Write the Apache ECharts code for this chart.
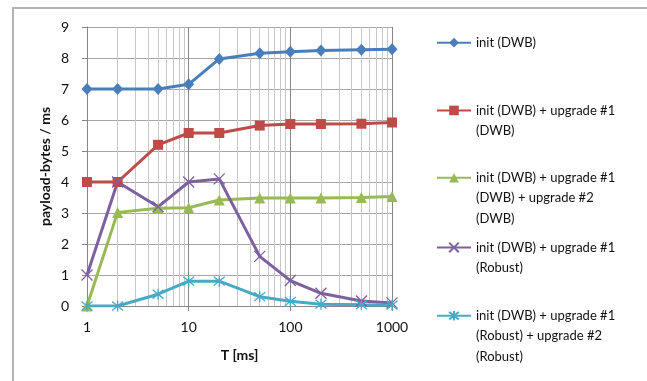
<!DOCTYPE html>
<html>
<head>
<meta charset="utf-8">
<script src="https://cdn.jsdelivr.net/npm/echarts@6/dist/echarts.min.js"></script>
<style>
  html, body { margin: 0; padding: 0; background: #fff; }
  #frame { position: absolute; left: 12px; top: 7px; width: 635px; height: 374px;
           border-left: 2px solid #b3b3b3; border-top: 2px solid #b3b3b3; box-sizing: border-box; }
  #chart { position: absolute; left: 0; top: 0; width: 647px; height: 381px; }
</style>
</head>
<body>
<div id="frame"></div>
<div id="chart"></div>
<script>
const periods = [1, 2, 5, 10, 20, 50, 100, 200, 500, 1000]
const minorTicks = [2, 3, 4, 5, 6, 7, 8, 9, 20, 30, 40, 50, 60, 70, 80, 90, 200, 300, 400, 500, 600, 700, 800, 900]

const seriesNames = [
  'init (DWB)',
  'init (DWB) + upgrade #1 (DWB)',
  'init (DWB) + upgrade #1 (DWB) + upgrade #2 (DWB)',
  'init (DWB) + upgrade #1 (Robust)',
  'init (DWB) + upgrade #1 (Robust) + upgrade #2 (Robust)'
]
const legendLines = [
  ['init (DWB)'],
  ['init (DWB) + upgrade #1', '(DWB)'],
  ['init (DWB) + upgrade #1', '(DWB) + upgrade #2', '(DWB)'],
  ['init (DWB) + upgrade #1', '(Robust)'],
  ['init (DWB) + upgrade #1', '(Robust) + upgrade #2', '(Robust)']
]

const initDwb = [7.0, 7.0, 7.0, 7.15, 7.97, 8.15, 8.2, 8.24, 8.27, 8.28]
const up1Dwb = [4.0, 4.0, 5.2, 5.58, 5.58, 5.82, 5.87, 5.87, 5.88, 5.92]
const up2Dwb = [0.0, 3.02, 3.15, 3.17, 3.42, 3.48, 3.48, 3.48, 3.5, 3.53]
const up1Robust = [1.0, 4.0, 3.2, 4.0, 4.1, 1.6, 0.82, 0.41, 0.16, 0.1]
const up2Robust = [0.0, 0.0, 0.38, 0.8, 0.8, 0.3, 0.15, 0.06, 0.04, 0.03]

const colors = ['#4a7ebb', '#be4b48', '#98b954', '#7d60a0', '#46aac5']
const font = 'Lato, "Liberation Sans", sans-serif'
const textColor = '#111'

const chart = echarts.init(document.getElementById('chart'))

const xMark = 'path://M0,0L10,10M0,10L10,0'
const starMark = 'path://M0,1L10,9M0,9L10,1M5,0L5,10'

function pts(values) {
  return periods.map((p, i) => [p, values[i]])
}

const legendTops = [32.5, 80, 127, 217, 265]
const legends = seriesNames.map((name, i) => {
  const lines = legendLines[i]
  const pad = new Array(lines.length - 1).fill('').join('\n')
  return {
    data: [name],
    orient: 'vertical',
    left: 436,
    top: legendTops[i],
    padding: 0,
    itemWidth: 34,
    itemHeight: 12,
    textStyle: { fontFamily: font, fontSize: 13, color: textColor, lineHeight: 20.3 },
    formatter: () => (lines.length > 1 ? pad + '\n' : '') + lines.join('\n')
  }
})

const common = { type: 'line', lineStyle: { width: 3 }, animation: false }

chart.setOption({
  animation: false,
  backgroundColor: 'transparent',
  color: colors,
  grid: { left: 87, right: 255, top: 27, bottom: 75 },
  legend: legends,
  xAxis: {
    type: 'log',
    logBase: 10,
    min: 1,
    max: 1000,
    name: 'T [ms]',
    nameLocation: 'middle',
    nameGap: 42,
    nameTextStyle: { fontFamily: font, fontSize: 14, fontWeight: 'bold', color: textColor },
    axisLine: { lineStyle: { color: '#878787', width: 1 } },
    axisTick: { show: true, length: 5, lineStyle: { color: '#878787' } },
    axisLabel: { fontFamily: font, fontSize: 14, color: textColor, margin: 14, formatter: v => String(v) },
    splitLine: { show: true, lineStyle: { color: '#878787', width: 1 } }
  },
  yAxis: {
    type: 'value',
    min: 0,
    max: 9,
    interval: 1,
    name: 'payload-bytes / ms',
    nameLocation: 'middle',
    nameGap: 35,
    nameTextStyle: { fontFamily: font, fontSize: 14, fontWeight: 'bold', color: textColor },
    axisLine: { show: true, lineStyle: { color: '#878787', width: 1 } },
    axisTick: { show: true, length: 5, lineStyle: { color: '#878787' } },
    axisLabel: { fontFamily: font, fontSize: 14, color: textColor, margin: 18 },
    splitLine: { show: true, lineStyle: { color: '#a6a6a6', width: 1 } }
  },
  series: [
    {
      ...common,
      name: seriesNames[0],
      data: pts(initDwb),
      symbol: 'diamond',
      symbolSize: [11, 12],
      markLine: {
        silent: true,
        z: 1,
        symbol: 'none',
        label: { show: false },
        lineStyle: { color: '#c8c8c8', type: 'solid', width: 1 },
        data: minorTicks.map(v => ({ xAxis: v }))
      }
    },
    { ...common, name: seriesNames[1], data: pts(up1Dwb), symbol: 'rect', symbolSize: 10 },
    { ...common, name: seriesNames[2], data: pts(up2Dwb), symbol: 'triangle', symbolSize: 11 },
    {
      ...common, name: seriesNames[3], data: pts(up1Robust), symbol: xMark, symbolSize: 11,
      itemStyle: { color: colors[3], borderColor: colors[3], borderWidth: 1.3 }
    },
    {
      ...common, name: seriesNames[4], data: pts(up2Robust), symbol: starMark, symbolSize: 11,
      itemStyle: { color: colors[4], borderColor: colors[4], borderWidth: 1.3 }
    }
  ]
})

window.addEventListener('resize', () => chart.resize())
</script>
</body>
</html>
